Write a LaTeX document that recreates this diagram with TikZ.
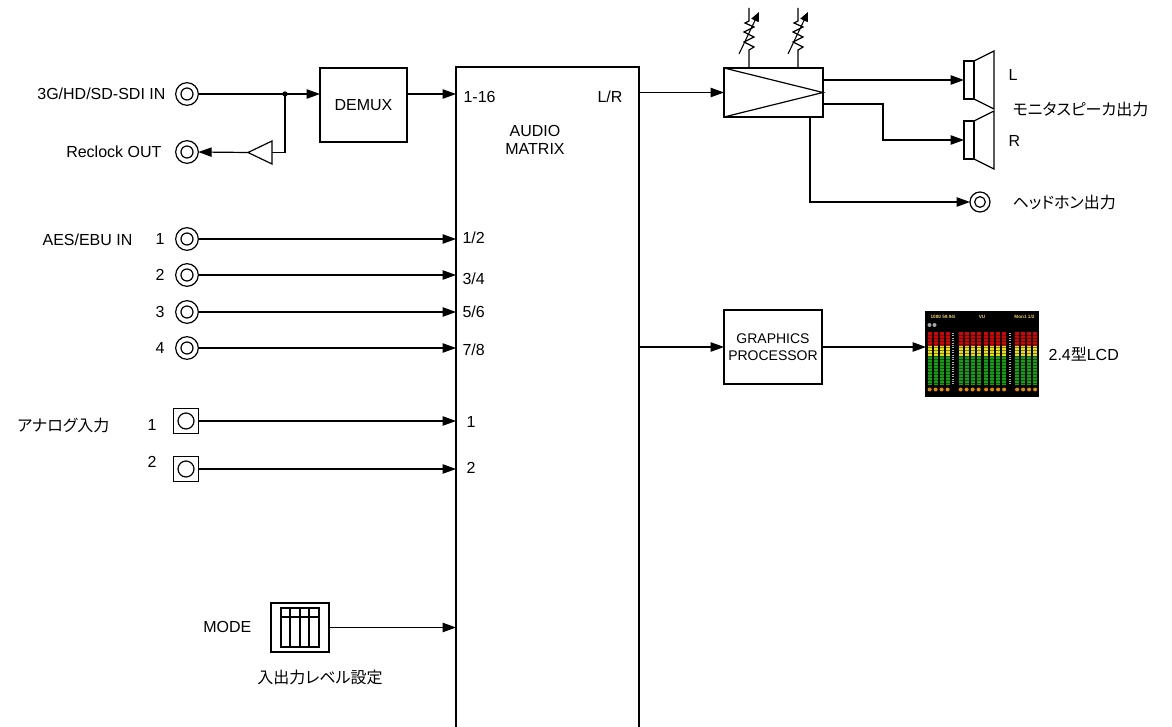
\documentclass[tikz,border=0pt]{standalone}
\usepackage{fontspec}
\setmainfont{Liberation Sans}
\newfontfamily\jp[RawFeature=+palt]{Noto Sans CJK JP}
\usetikzlibrary{arrows.meta,calc}
\definecolor{lcdred}{HTML}{D80000}
\definecolor{lcdyel}{HTML}{E8E000}
\definecolor{lcdgrn}{HTML}{10A010}
\definecolor{lcdorg}{HTML}{E08A00}
\definecolor{lcdtxt}{HTML}{E8D060}
\begin{document}
\begin{tikzpicture}[x=0.75pt,y=-0.75pt,line width=0.9pt,
  font=\fontsize{12}{14}\selectfont,
  arr/.style={-{Triangle[length=10pt,width=7pt]}},
  box/.style={draw,fill=white,inner sep=0pt,outer sep=0pt,align=center},
  coax/.style={circle,draw,minimum size=17pt,inner sep=0pt,outer sep=0pt,
    path picture={\draw (path picture bounding box.center) circle[radius=4.5pt];}},
  jack/.style={rectangle,draw,minimum size=18.75pt,inner sep=0pt,outer sep=0pt,
    path picture={\draw (path picture bounding box.center) circle[radius=6pt];}},
  lbl/.style={inner sep=0pt},
  spk/.style={rectangle,draw,minimum width=7.5pt,minimum height=28.5pt,inner sep=0pt,outer sep=0pt}]
\useasboundingbox (0,0) rectangle (1172,727);

% ---------- SDI input ----------
\node[lbl,anchor=east] (sdilbl) at (166,94) {3G/HD/SD-SDI IN};
\node[coax] (sdi) at (187,94) {};
\coordinate (split) at (285,94);
\node[box,minimum width=65.25pt,minimum height=55.5pt] (demux) at (363.5,105) {DEMUX};
\node[box,minimum width=137.25pt,minimum height=498.75pt] (matrix) at (547.5,399.5) {};
\draw (sdi) -- (split);
\fill (split) circle[radius=2pt];
\draw[arr] (split) -- (demux.west |- split);
\draw[arr] (demux.east |- split) -- (matrix.west |- split);

% ---------- Reclock ----------
\node[lbl,anchor=east] (reclbl) at (162,152) {Reclock OUT};
\node[coax] (reclock) at (187,152) {};
\coordinate (buftip) at (248,152.5);
\coordinate (bufbase) at (272,152.5);
\draw[fill=white] (272,141) -- (buftip) -- (272,164) -- cycle;
\draw (split) |- (bufbase);
\draw[arr] (buftip) -- (reclock.east);

% ---------- Matrix labels ----------
\node[lbl,anchor=west] at (463,97) {1-16};
\node[lbl,anchor=east] at (623,97) {L/R};
\node[lbl,align=center] (mtxt) at (535,140) {AUDIO\\MATRIX};

% ---------- AES/EBU ----------
\node[lbl,anchor=east] (aeslbl) at (133,240) {AES/EBU IN};
\foreach \i/\yy/\pl/\py in {1/239/1\slash2/238,2/275/3\slash4/279,3/312/5\slash6/312,4/348/7\slash8/350}{
  \node[lbl] (aesn\i) at (160,\yy) {\i};
  \node[coax] (aes\i) at (187,\yy) {};
  \draw[arr] (aes\i) -- (matrix.west |- aes\i);
  \node[lbl,anchor=west] (aesp\i) at (462,\py) {\pl};
}

% ---------- Analog ----------
\node[lbl,anchor=east] (analbl) at (110,425) {\jp アナログ入力};
\node[lbl] (anan1) at (152,425) {1};
\node[lbl] (anan2) at (152,462) {2};
\node[jack] (ana1) at (186,421) {};
\node[jack] (ana2) at (186,469) {};
\draw[arr] (ana1) -- (matrix.west |- ana1);
\draw[arr] (ana2) -- (matrix.west |- ana2);
\node[lbl,anchor=west] at (466,422) {1};
\node[lbl,anchor=west] at (466,468) {2};

% ---------- MODE switch ----------
\node[lbl,anchor=east] (modelbl) at (252,627) {MODE};
\node[box,minimum width=43.5pt,minimum height=36.75pt] (sw) at (300,627.5) {};
\draw (281,608) rectangle (319,647);
\draw (281,617) -- (319,617);
\foreach \sx in {290,300,309} \draw (\sx,608) -- (\sx,647);
\draw[arr] (sw.east) -- (matrix.west |- sw.east);
\node[lbl] (swlbl) at (320,677) {\jp 入出力レベル設定};

% ---------- Amplifier ----------
\node[box,minimum width=74.25pt,minimum height=36.75pt] (amp) at (773.5,92.5) {};
\draw (amp.north west) -- (amp.east) -- (amp.south west);
\draw[arr] (matrix.east |- amp.west) -- (amp.west);
\foreach \rx in {749,798}{
  \draw (\rx,68) -- (\rx,50) -- (\rx+5,47) -- (\rx-5,42) -- (\rx+5,37) -- (\rx-5,32) -- (\rx+5,27) -- (\rx-4,23) -- (\rx,21) -- (\rx,8);
  \draw[line width=0.8pt,-{Triangle[length=7pt,width=6pt]}] (\rx-10,54) -- (\rx+10,12);
}

% ---------- Speakers ----------
\node[spk] (spkL) at (969,80) {};
\node[spk] (spkR) at (969,140) {};
\draw (spkL.north east) -- ++(20,-10) -- ++(0,58) -- (spkL.south east);
\draw (spkR.north east) -- ++(20,-10) -- ++(0,58) -- (spkR.south east);
\coordinate (ampL) at (823,80);
\coordinate (ampR) at (823,104);
\coordinate (rbend) at (883,104);
\coordinate (hpb) at (810,117);
\draw[arr] (ampL) -- (spkL.west);
\draw[arr] (ampR) -- (rbend) |- (spkR.west);
\node[lbl,anchor=west] at (1008,75) {L};
\node[lbl,anchor=west] at (1008,141) {R};
\node[lbl,anchor=west] (mon) at (1012,109) {\jp モニタスピーカ出力};

% ---------- Headphone ----------
\node[circle,draw,minimum size=15pt,inner sep=0pt,outer sep=0pt,
  path picture={\draw (path picture bounding box.center) circle[radius=4pt];}] (hp) at (980,202) {};
\draw[arr] (hpb) |- (hp.west);
\node[lbl,anchor=west] (hplbl) at (1012,202) {\jp ヘッドホン出力};

% ---------- Graphics processor ----------
\node[box,minimum width=73.5pt,minimum height=55.5pt,font=\fontsize{10.5}{12.5}\selectfont] (gp) at (773,347) {GRAPHICS\\PROCESSOR};
\draw[arr] (matrix.east |- gp.west) -- (gp.west);

% ---------- LCD ----------
\node[draw=black,fill=black,minimum width=84pt,minimum height=63pt,inner sep=0pt,outer sep=0pt] (lcd) at (982,354) {};
\draw[arr] (gp.east) -- (gp.east -| lcd.west);
\foreach \bx in {927.5,933.5,939.5,945.5,958.5,964.5,970.5,976.5,984,990,996,1002,1015,1021,1027,1033}{
  \fill[lcdred] (\bx,332) rectangle ++(4.2,14);
  \fill[lcdyel] (\bx,346) rectangle ++(4.2,10);
  \fill[lcdgrn] (\bx,356) rectangle ++(4.2,29);
  \fill[lcdorg] (\bx+2.1,389.5) circle[radius=1.5pt];
}
\foreach \yy in {335,338,...,384} \draw[black,opacity=0.45,line width=0.25pt] (927,\yy) -- (1037,\yy);
\foreach \sx in {953,1010} \draw[gray!60,line width=1.6pt,dash pattern=on 0.6pt off 1.2pt] (\sx,333) -- (\sx,385);
\node[lbl,anchor=west,text=lcdtxt,font=\fontsize{3.5}{4}\selectfont\bfseries] at (930,317) {1080 59.94i};
\node[lbl,text=lcdtxt,font=\fontsize{3.5}{4}\selectfont\bfseries] at (982,317) {VU};
\node[lbl,anchor=east,text=lcdtxt,font=\fontsize{3.5}{4}\selectfont\bfseries] at (1035,317) {Mon1 1/2};
\fill[gray!70] (929.5,325) circle[radius=1.5pt];
\fill[gray!70] (934.5,325) circle[radius=1.5pt];
\node[lbl,anchor=west] (lcdlbl) at (1048,354) {2.4{\jp 型}LCD};
\end{tikzpicture}
\end{document}
